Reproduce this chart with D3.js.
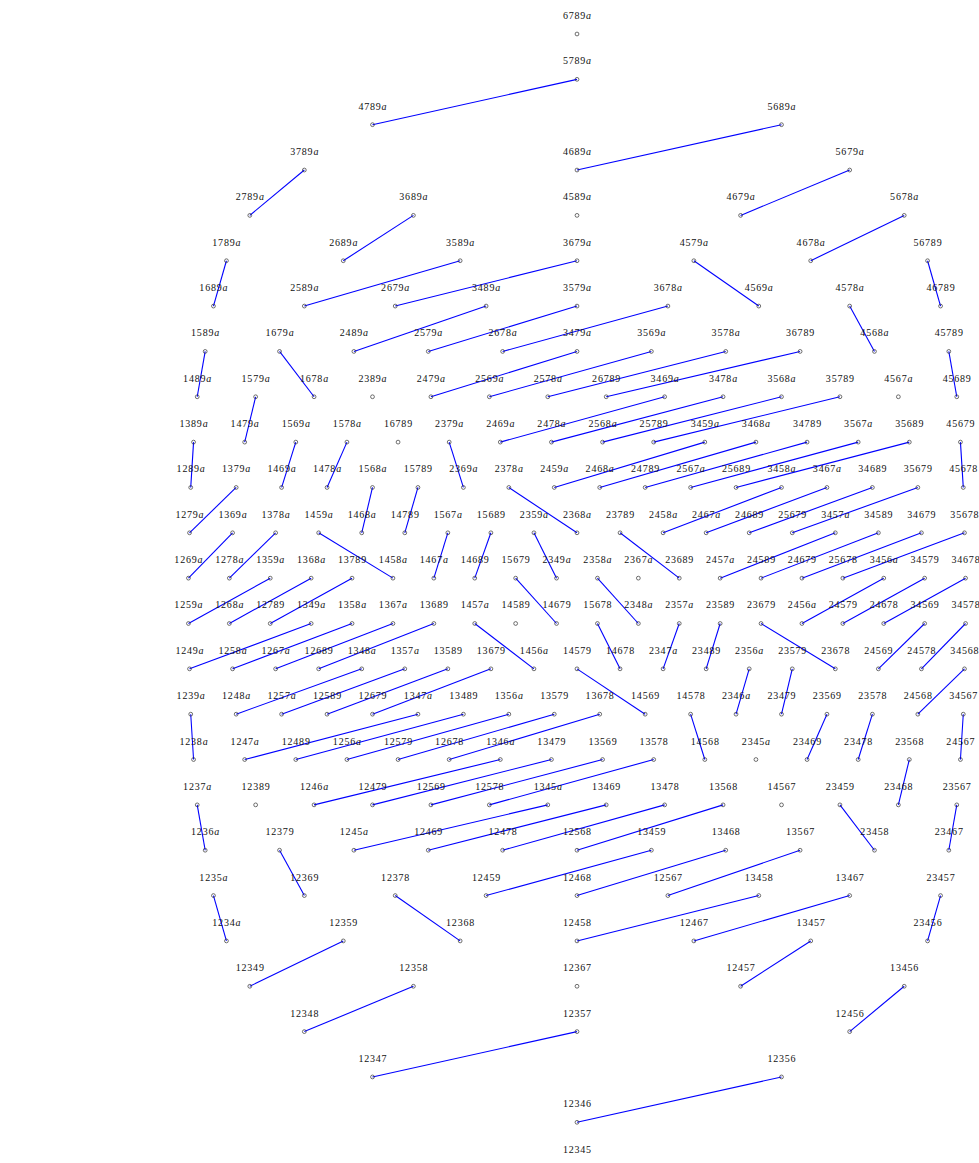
<!DOCTYPE html>
<html><head><meta charset="utf-8">
<script src="https://cdn.jsdelivr.net/npm/d3@7"></script>
<style>html,body{margin:0;padding:0;background:#fff;overflow:hidden}</style>
</head><body>
<svg id="chart" width="979" height="1163"></svg>
<script>
// rows from top (sum 40) to bottom (sum 15); each row lists its 5-subsets in order
const rows = [
  "6789a",
  "5789a",
  "4789a 5689a",
  "3789a 4689a 5679a",
  "2789a 3689a 4589a 4679a 5678a",
  "1789a 2689a 3589a 3679a 4579a 4678a 56789",
  "1689a 2589a 2679a 3489a 3579a 3678a 4569a 4578a 46789",
  "1589a 1679a 2489a 2579a 2678a 3479a 3569a 3578a 36789 4568a 45789",
  "1489a 1579a 1678a 2389a 2479a 2569a 2578a 26789 3469a 3478a 3568a 35789 4567a 45689",
  "1389a 1479a 1569a 1578a 16789 2379a 2469a 2478a 2568a 25789 3459a 3468a 34789 3567a 35689 45679",
  "1289a 1379a 1469a 1478a 1568a 15789 2369a 2378a 2459a 2468a 24789 2567a 25689 3458a 3467a 34689 35679 45678",
  "1279a 1369a 1378a 1459a 1468a 14789 1567a 15689 2359a 2368a 23789 2458a 2467a 24689 25679 3457a 34589 34679 35678",
  "1269a 1278a 1359a 1368a 13789 1458a 1467a 14689 15679 2349a 2358a 2367a 23689 2457a 24589 24679 25678 3456a 34579 34678",
  "1259a 1268a 12789 1349a 1358a 1367a 13689 1457a 14589 14679 15678 2348a 2357a 23589 23679 2456a 24579 24678 34569 34578",
  "1249a 1258a 1267a 12689 1348a 1357a 13589 13679 1456a 14579 14678 2347a 23489 2356a 23579 23678 24569 24578 34568",
  "1239a 1248a 1257a 12589 12679 1347a 13489 1356a 13579 13678 14569 14578 2346a 23479 23569 23578 24568 34567",
  "1238a 1247a 12489 1256a 12579 12678 1346a 13479 13569 13578 14568 2345a 23469 23478 23568 24567",
  "1237a 12389 1246a 12479 12569 12578 1345a 13469 13478 13568 14567 23459 23468 23567",
  "1236a 12379 1245a 12469 12478 12568 13459 13468 13567 23458 23467",
  "1235a 12369 12378 12459 12468 12567 13458 13467 23457",
  "1234a 12359 12368 12458 12467 13457 23456",
  "12349 12358 12367 12457 13456",
  "12348 12357 12456",
  "12347 12356",
  "12346",
  "12345"
];

// blue segments: upper node -> lower node
const edges = [
  "5789a>4789a",
  "5689a>4689a",
  "3789a>2789a","5679a>4679a",
  "3689a>2689a","5678a>4678a",
  "1789a>1689a","3589a>2589a","3679a>2679a","4579a>4569a","56789>46789",
  "3489a>2489a","3579a>2579a","3678a>2678a","4578a>4568a",
  "1589a>1489a","1679a>1678a","3479a>2479a","3569a>2569a","3578a>2578a","36789>26789","45789>45689",
  "1579a>1479a","3469a>2469a","3478a>2478a","3568a>2568a","35789>25789",
  "1389a>1289a","1569a>1469a","1578a>1478a","2379a>2369a","3459a>2459a","3468a>2468a","34789>24789","3567a>2567a","35689>25689","45679>45678",
  "1379a>1279a","1568a>1468a","15789>14789","2378a>2368a","3458a>2458a","3467a>2467a","34689>24689","35679>25679",
  "1369a>1269a","1378a>1278a","1459a>1458a","1567a>1467a","15689>14689","2359a>2349a","23789>23689","3457a>2457a","34589>24589","34679>24679","35678>25678",
  "1359a>1259a","1368a>1268a","13789>12789","15679>14679","2358a>2348a","3456a>2456a","34579>24579","34678>24678",
  "1349a>1249a","1358a>1258a","1367a>1267a","13689>12689","1457a>1456a","15678>14678","2357a>2347a","23589>23489","23679>23678","34569>24569","34578>24578",
  "1348a>1248a","1357a>1257a","13589>12589","13679>12679","14579>14569","2356a>2346a","23579>23479","34568>24568",
  "1239a>1238a","1347a>1247a","13489>12489","1356a>1256a","13579>12579","13678>12678","14578>14568","23569>23469","23578>23478","34567>24567",
  "1346a>1246a","13479>12479","13569>12569","13578>12578","23568>23468",
  "1237a>1236a","1345a>1245a","13469>12469","13478>12478","13568>12568","23459>23458","23567>23467",
  "12379>12369","13459>12459","13468>12468","13567>12567",
  "1235a>1234a","12378>12368","13458>12458","13467>12467","23457>23456",
  "12359>12349","13457>12457",
  "12358>12348","13456>12456",
  "12357>12347",
  "12356>12346"
];

const svg = d3.select("#chart");
const nodes = [];
rows.forEach((r, ri) => {
  const labels = r.split(" ");
  labels.forEach((lab, i) => nodes.push({lab, row: ri, i, n: labels.length}));
});
const byLab = new Map(nodes.map(d => [d.lab, d]));

const y = d3.scaleLinear().domain([0, 24]).range([34, 1122.3]);
const xFor = d => d3.scaleLinear().domain([0, d.n]).range([168, 986])(d.i + 0.5);

svg.append("g").selectAll("line").data(edges.map(e => e.split(">")))
  .join("line")
  .attr("x1", e => xFor(byLab.get(e[0]))).attr("y1", e => y(byLab.get(e[0]).row))
  .attr("x2", e => xFor(byLab.get(e[1]))).attr("y2", e => y(byLab.get(e[1]).row))
  .attr("stroke", "#0000ff").attr("stroke-width", 1.1);

svg.append("g").selectAll("circle").data(nodes).join("circle")
  .attr("cx", xFor).attr("cy", d => y(d.row)).attr("r", 1.9)
  .attr("fill", "none").attr("stroke", "#333").attr("stroke-width", 0.7);

const t = svg.append("g").selectAll("text").data(nodes).join("text")
  .attr("x", d => xFor(d) + 0.4).attr("y", d => y(d.row) - 15)
  .attr("text-anchor", "middle")
  .attr("font-family", "'Liberation Serif', serif")
  .attr("font-size", 10).attr("letter-spacing", "0.8px").attr("fill", "#111");
t.each(function(d) {
  const g = d3.select(this);
  const digits = d.lab.replace("a", "");
  g.append("tspan").text(digits);
  if (d.lab.endsWith("a")) g.append("tspan").attr("font-style", "italic").text("a");
});
</script>
</body></html>
